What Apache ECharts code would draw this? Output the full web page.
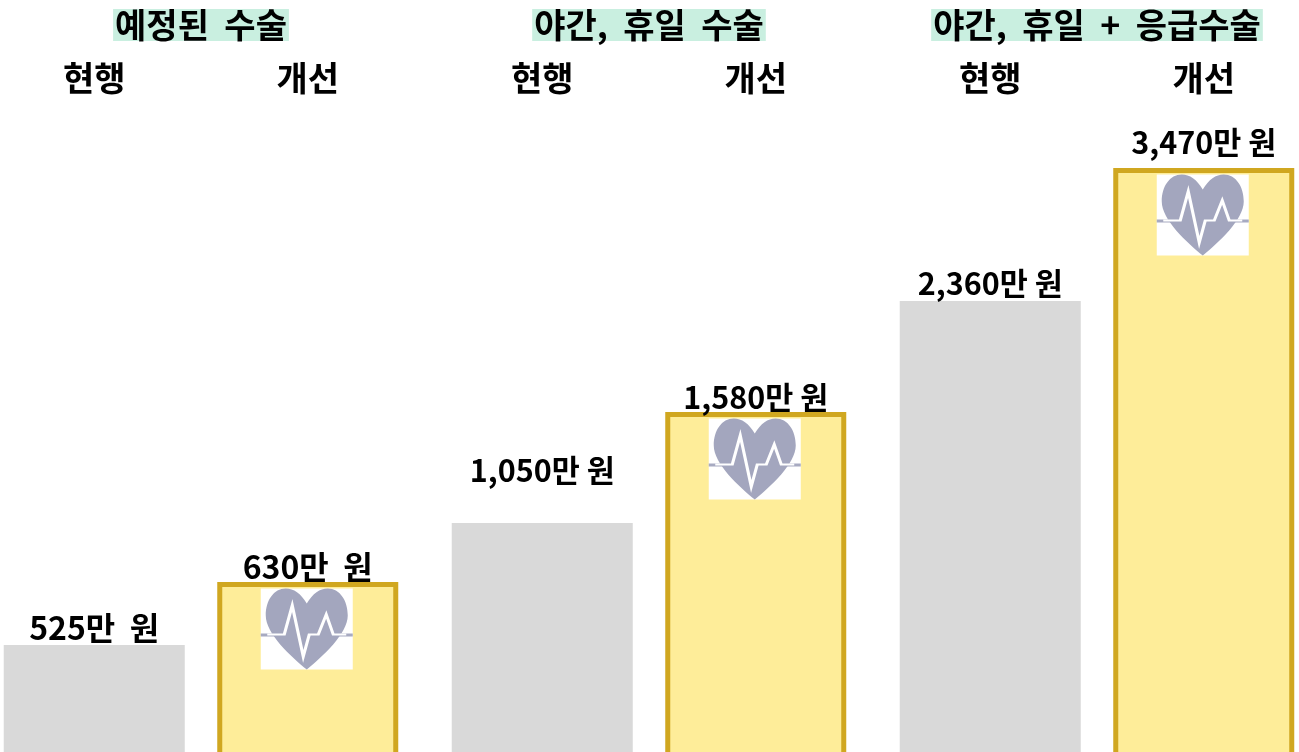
<!DOCTYPE html>
<html>
<head>
<meta charset="utf-8">
<style>
html,body{margin:0;padding:0;background:#fff;}
#chart{width:1299px;height:752px;}
</style>
<script src="https://cdn.jsdelivr.net/npm/echarts@6/dist/echarts.min.js"></script>
</head>
<body>
<div id="chart"></div>
<script>
// bars in the picture are not drawn to scale with their labels, so heights are kept apart
const groups = ['예정된  수술', '야간,  휴일  수술', '야간,  휴일  +  응급수술'];
const seriesNames = ['현행', '개선'];
const currentHeights = [117, 239, 461];
const improvedHeights = [180, 350, 594];
const currentLabels = ['525만  원', '1,050만 원', '2,360만 원'];
const improvedLabels = ['630만  원', '1,580만 원', '3,470만 원'];

const FONT = '"Noto Sans CJK KR","Noto Sans",sans-serif';
const HEAD_SIZE = 34;
const HEADER_Y = 684;

const heartPath = 'path://M46 15C40 5 33 0 25 0C13 0 5 12 5 27C5 45 30 68 46 81C62 68 87 45 87 27C87 12 79 0 67 0C59 0 52 5 46 15Z';
const pulsePath = 'path://M7 46L24 46L32 17L43 68L49 46L58 46L66 26L73 46L86 46';

const textLabel = (text) => ({
  show: true, formatter: text, position: 'inside', color: '#000',
  fontFamily: FONT, fontWeight: 'bold', fontSize: HEAD_SIZE
});

const headerMark = (name) => groups.map((g, i) => ({
  coord: [i, HEADER_Y], symbol: 'circle', symbolSize: 1,
  itemStyle: { color: 'transparent' }, label: textLabel(name)
}));

const heartMarks = () => {
  const out = [];
  improvedHeights.forEach((h, i) => {
    const c = [i, h];
    out.push({ coord: c, symbol: 'rect', symbolSize: [92, 81], symbolOffset: [-1, 47],
      itemStyle: { color: '#fff' } });
    out.push({ coord: c, symbol: 'rect', symbolSize: [92, 3], symbolOffset: [-1, 53],
      itemStyle: { color: '#A7AAC1' } });
    out.push({ coord: c, symbol: heartPath, symbolSize: [82, 81], symbolOffset: [-1, 47],
      itemStyle: { color: '#A3A6BE' } });
    out.push({ coord: c, symbol: pulsePath, symbolSize: [79, 51], symbolOffset: [-1, 49],
      itemStyle: { color: 'none', borderColor: '#fff', borderWidth: 2.5 } });
  });
  return out;
};

const valueLabel = (texts) => ({
  show: true, position: 'top', color: '#000', fontFamily: FONT, fontWeight: 'bold', fontSize: 32,
  formatter: (p) => texts[p.dataIndex]
});

// the four-digit amounts are set a little tighter in the picture
const labelStyle = (i, distance) => ({ distance: distance, fontSize: i === 0 ? 32 : 30.5 });

const chart = echarts.init(document.getElementById('chart'), null, { renderer: 'canvas' });
chart.setOption({
  animation: false,
  grid: { left: -23, width: 1344, top: 0, bottom: -10, outerBoundsMode: 'none' },
  xAxis: {
    type: 'category', position: 'top', data: groups,
    axisLine: { show: false }, axisTick: { show: false },
    axisLabel: {
      inside: true, margin: 9, interval: 0, color: '#000', fontFamily: FONT, fontWeight: 'bold', fontSize: HEAD_SIZE,
      backgroundColor: '#C9EFE0', lineHeight: 32, height: 32, padding: [0, 2]
    }
  },
  yAxis: { type: 'value', min: 0, max: 762, show: false },
  series: [
    {
      name: seriesNames[0], type: 'bar', barWidth: 181, barGap: '17.96%', silent: true,
      data: currentHeights.map((h, i) => ({ value: h, label: labelStyle(i, [1, 37, 2][i]) })),
      itemStyle: { color: '#D9D9D9' },
      label: valueLabel(currentLabels),
      markPoint: { silent: true, animation: false, data: headerMark(seriesNames[0]) }
    },
    {
      name: seriesNames[1], type: 'bar', barWidth: 181, silent: true,
      data: improvedHeights.map((h, i) => ({ value: h, label: labelStyle(i, [-1, -1, 10][i]) })),
      itemStyle: { color: '#FEED99', borderColor: '#D0A720', borderWidth: 5 },
      label: valueLabel(improvedLabels),
      markPoint: { silent: true, animation: false, data: headerMark(seriesNames[1]).concat(heartMarks()) }
    }
  ]
});
</script>
</body>
</html>
